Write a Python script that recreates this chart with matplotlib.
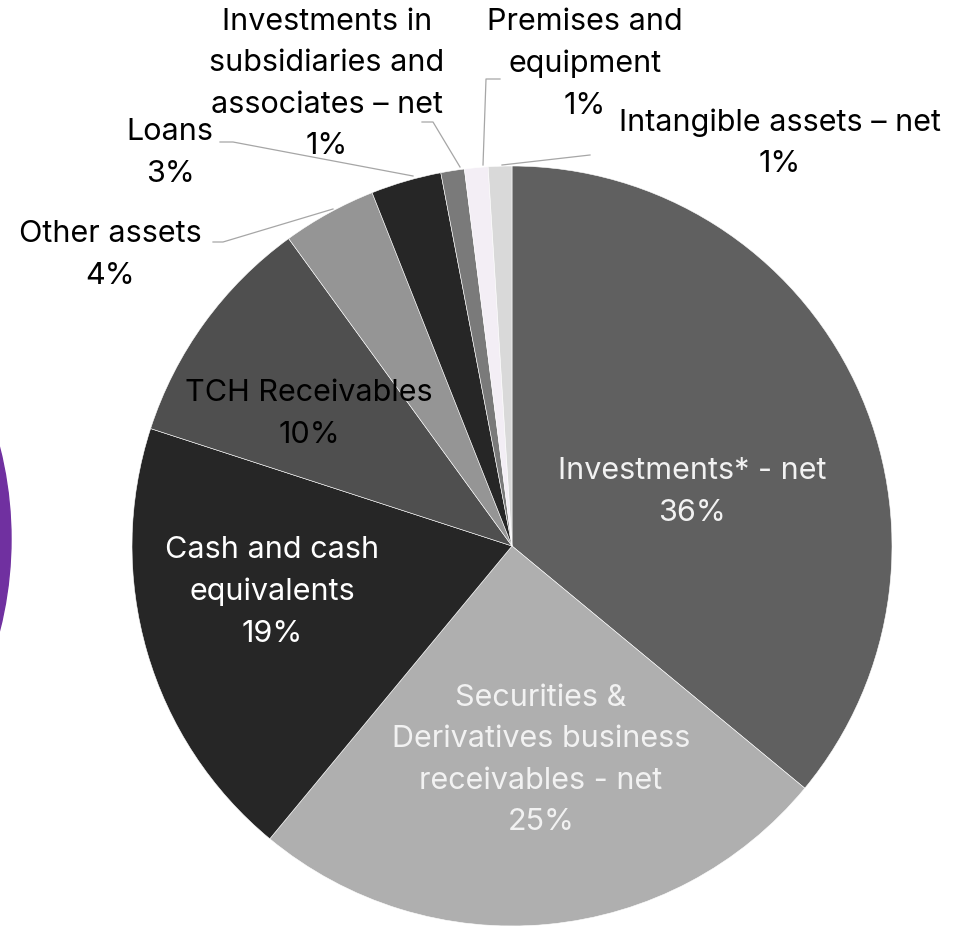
import matplotlib.pyplot as plt
from matplotlib.patches import Circle

# Asset composition (% of total assets)
categories = [
    "Investments* - net",
    "Securities &\nDerivatives business\nreceivables - net",
    "Cash and cash\nequivalents",
    "TCH Receivables",
    "Other assets",
    "Loans",
    "Investments in\nsubsidiaries and\nassociates \u2013 net",
    "Premises and\nequipment",
    "Intangible assets \u2013 net",
]
shares = [36, 25, 19, 10, 4, 3, 1, 1, 1]
colors = ["#606060", "#afafaf", "#262626", "#4f4f4f", "#959595",
          "#262626", "#7a7a7a", "#f3eef5", "#d9d9d9"]
text_colors = ["#f2f2f2", "#f2f2f2", "#ffffff", "#000000", "#000000",
               "#000000", "#000000", "#000000", "#000000"]

W, H = 967, 927

# label centres and leader lines, in pixel coordinates (y from the top)
label_pos = [(692, 492), (541, 760), (272, 592), (309, 414), (110, 255),
             (170, 153), (327, 84), (585, 64), (780, 143)]
leaders = [None, None, None, None,
           [(213, 242), (223, 242), (333, 209)],
           [(220, 142), (233, 142), (413, 176)],
           [(422, 122), (433, 122), (460, 167)],
           [(500, 79), (486, 79), (483, 165)],
           [(590, 155), (502, 165)]]

plt.rcParams["font.family"] = ["Inter", "DejaVu Sans"]

fig = plt.figure(figsize=(W / 100, H / 100), dpi=100)
ax = fig.add_axes([0, 0, 1, 1])

# purple disc peeking in from the left edge
ax.add_patch(Circle((-364, H - 539), 375, color="#7030a0", zorder=0))

ax.pie(shares, colors=colors, startangle=90, counterclock=False,
       center=(512, H - 546), radius=380,
       wedgeprops=dict(linewidth=0.4, edgecolor="#ffffff"),
       frame=True)
ax.set_xlim(0, W)
ax.set_ylim(0, H)
ax.set_aspect("equal")
ax.axis("off")

for name, val, (x, y), tc, lead in zip(categories, shares, label_pos,
                                       text_colors, leaders):
    ax.text(x, H - y, f"{name}\n{val}%", ha="center", va="center",
            fontsize=22, color=tc, linespacing=1.6, zorder=5)
    if lead:
        xs = [p[0] for p in lead]
        ys = [H - p[1] for p in lead]
        ax.plot(xs, ys, color="#a6a6a6", linewidth=0.9, zorder=4)

fig.savefig("out.png", dpi=100)
